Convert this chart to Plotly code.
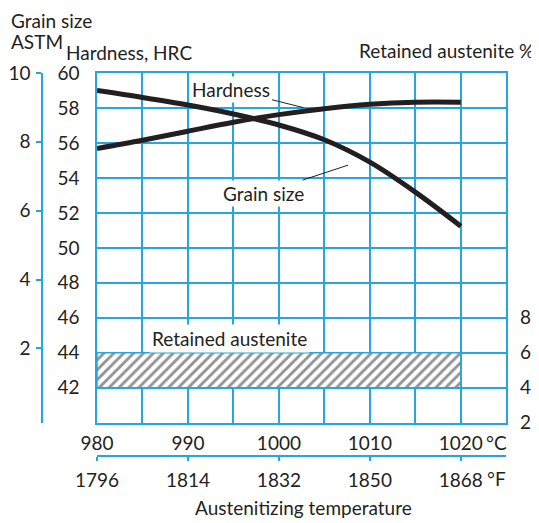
import plotly.graph_objects as go

# ---------------- data ----------------
temp_c = [980, 985, 990, 995, 1000, 1005, 1010, 1015, 1020]
hardness_hrc = [55.68, 56.15, 56.67, 57.18, 57.62, 57.96, 58.21, 58.33, 58.33]
grain_size_astm = [9.49, 9.29, 9.07, 8.81, 8.49, 8.06, 7.41, 6.54, 5.55]

retained_temp = [980, 1020]        # °C span of the band
retained_pct = [4, 6]              # retained austenite %, low / high

c_ticks = [980, 990, 1000, 1010, 1020]
c_grid = [980, 985, 990, 995, 1000, 1005, 1010, 1015, 1020, 1025]
f_ticks = [1796, 1814, 1832, 1850, 1868]
hrc_ticks = [42, 44, 46, 48, 50, 52, 54, 56, 58, 60]
grain_ticks = [2, 4, 6, 8, 10]
ra_ticks = [2, 4, 6, 8]

# ---------------- style ----------------
OFF = 8                      # page body margin
W, H = 539 - OFF, 523 - OFF
ML, MR, MT, MB = 42 - OFF, 31 - OFF, 73 - OFF, 67
BLUE = "#25a6df"
INK = "#231f20"
FONT = "Lato"
FS = 19

pw = W - ML - MR
ph = H - MT - MB


def px(x):
    return (x - OFF - ML) / pw


def py(y):
    return (H - MB - (y - OFF)) / ph


x_dom = [px(97), px(506.3)]
y_dom = [py(422.7), 1.0]

fig = go.Figure()

band_x = [retained_temp[0], retained_temp[1], retained_temp[1], retained_temp[0], retained_temp[0]]
band_y = [retained_pct[0], retained_pct[0], retained_pct[1], retained_pct[1], retained_pct[0]]
fig.add_trace(go.Scatter(
    x=band_x, y=band_y, xaxis="x", yaxis="y2", mode="lines",
    fill="toself", fillcolor="white",
    fillpattern=dict(shape="/", fgcolor="#2a2a2a", bgcolor="white", size=7, solidity=0.42),
    line=dict(color=BLUE, width=1.5), hoverinfo="skip", showlegend=False))

fig.add_trace(go.Scatter(
    x=temp_c, y=hardness_hrc, xaxis="x", yaxis="y", mode="lines",
    line=dict(color=INK, width=5, shape="spline"), showlegend=False))

fig.add_trace(go.Scatter(
    x=temp_c, y=grain_size_astm, xaxis="x", yaxis="y3", mode="lines",
    line=dict(color=INK, width=5, shape="spline"), showlegend=False))

fig.add_trace(go.Scatter(x=[f_ticks[0]], y=[50], xaxis="x2", yaxis="y",
                         mode="markers", marker=dict(opacity=0), hoverinfo="skip",
                         showlegend=False))

x_range = [c_grid[0], c_grid[-1]]
f_per_c = 1.8
f_range = [f_ticks[0], f_ticks[0] + (x_range[1] - x_range[0]) * f_per_c]

c_text = [str(v) if v in c_ticks else "" for v in c_grid]

fig.update_layout(
    width=W, height=H, autosize=False,
    margin=dict(l=ML, r=MR, t=MT, b=MB, pad=0, autoexpand=False),
    paper_bgcolor="white", plot_bgcolor="rgba(0,0,0,0)",
    font=dict(family=FONT, size=FS, color=INK),
    xaxis=dict(
        domain=x_dom, range=x_range, autorange=False, anchor="y",
        tickmode="array", tickvals=c_grid, ticktext=c_text,
        showgrid=True, gridcolor=BLUE, gridwidth=1.5,
        showline=True, linecolor=BLUE, linewidth=1.5, mirror=True,
        ticks="outside", ticklen=2, tickcolor="rgba(0,0,0,0)",
        ticklabelstandoff=1, zeroline=False, automargin=False,
    ),
    xaxis2=dict(
        range=f_range, autorange=False, anchor="free", position=0, side="bottom",
        overlaying="x",
        tickmode="array", tickvals=f_ticks, ticktext=[str(v) for v in f_ticks],
        showgrid=False, showline=True, linecolor=BLUE, linewidth=1.5,
        ticks="outside", ticklen=4, tickcolor=BLUE, tickwidth=1.5,
        ticklabelstandoff=3, zeroline=False, automargin=False,
    ),
    yaxis=dict(
        domain=y_dom, range=[40, 60], autorange=False, anchor="x",
        tickmode="array", tickvals=[40] + hrc_ticks, ticktext=[""] + [str(v) for v in hrc_ticks],
        showgrid=True, gridcolor=BLUE, gridwidth=1.5,
        showline=True, linecolor=BLUE, linewidth=1.5, mirror=True,
        ticks="outside", ticklen=4, tickcolor="rgba(0,0,0,0)",
        ticklabelstandoff=8, zeroline=False, automargin=False,
    ),
    yaxis2=dict(
        overlaying="y", side="right", anchor="x", range=[2, 22], autorange=False,
        tickmode="array", tickvals=ra_ticks, ticktext=[str(v) for v in ra_ticks],
        showgrid=False, showline=False, zeroline=False,
        ticks="outside", ticklen=4, tickcolor="rgba(0,0,0,0)",
        ticklabelstandoff=5, automargin=False,
    ),
    yaxis3=dict(
        overlaying="y", side="left", anchor="free", position=0,
        range=[-0.16, 10.0], autorange=False,
        tickmode="array", tickvals=grain_ticks, ticktext=[str(v) for v in grain_ticks],
        showgrid=False, showline=True, linecolor=BLUE, linewidth=1.5,
        ticks="outside", ticklen=5, tickcolor=BLUE, tickwidth=1.5,
        ticklabelstandoff=2, zeroline=False, automargin=False,
    ),
)

ann = []
ann.append(dict(text="Hardness", x=1002.7, y=58.02, xref="x", yref="y",
                showarrow=True, arrowhead=0, arrowwidth=1, arrowcolor=INK,
                ax=-72, ay=-18, bgcolor="white", borderpad=1))
ann.append(dict(text="Grain size", x=1007.6, y=54.73, xref="x", yref="y",
                showarrow=True, arrowhead=0, arrowwidth=1, arrowcolor=INK,
                ax=-85, ay=28, bgcolor="white", borderpad=1))
ann.append(dict(text="Retained austenite", x=994.6, y=44.82, xref="x", yref="y",
                showarrow=False, bgcolor="white", borderpad=2))


def paper_text(text, x, y, xanchor="left"):
    return dict(text=text, x=px(x), y=py(y), xref="paper", yref="paper",
                xanchor=xanchor, yanchor="middle", showarrow=False, borderpad=0)


ann.append(paper_text("Grain size", 10, 20))
ann.append(paper_text("ASTM", 10, 42))
ann.append(paper_text("Hardness, HRC", 65, 52))
ann.append(paper_text("Retained austenite %", 535, 50, "right"))
ann.append(paper_text("°C", 485, 442))
ann.append(paper_text("°F", 486, 478))
ann.append(paper_text("Austenitizing temperature", 303, 507, "center"))

fig.update_layout(annotations=ann)

fig.write_html("out.html", config={"responsive": False, "displayModeBar": False})
